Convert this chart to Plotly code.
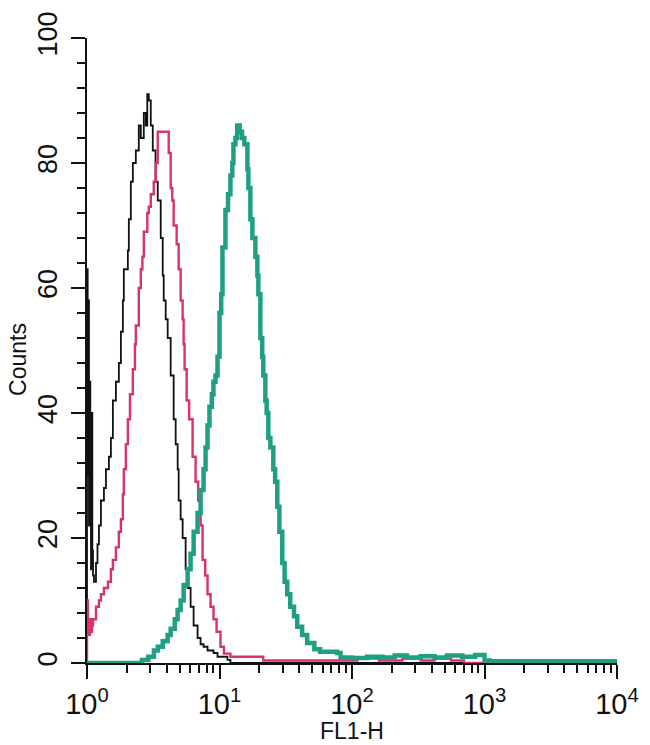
import plotly.graph_objects as go

# ---- data (FL1-H channel value, counts) ----
black_x = [1.0, 1.0, 1.012, 1.024, 1.035, 1.047, 1.059, 1.072, 1.084, 1.097, 1.11, 1.129, 1.169, 1.20,
           1.231, 1.274, 1.342, 1.39, 1.464, 1.515, 1.568, 1.652, 1.74, 1.802, 1.865, 1.897, 2.034,
           2.069, 2.142, 2.218, 2.336, 2.46, 2.547, 2.683, 2.778, 2.85, 2.926, 3.029, 3.136, 3.29,
           3.42, 3.601, 3.728, 3.793, 3.926, 4.064, 4.281, 4.51, 4.669, 4.833, 4.918, 5.091, 5.27,
           5.55, 5.745, 6.053, 6.376, 6.832, 7.197, 7.582, 8.124, 9.015, 9.66, 11.48, 12.09, 10000]
black_y = [0, 63, 30, 58, 22, 45, 38, 15, 40, 18, 14, 13, 16, 19,
           22, 26, 28, 31, 33, 36, 42, 45, 48, 53, 58, 63, 66,
           71, 77, 80, 82, 86, 84, 88, 86, 91, 90, 86, 82, 77,
           74, 68, 62, 58, 55, 52, 46, 39, 35, 31, 26, 23, 20,
           15, 12, 9, 6, 4, 3, 2.6, 2, 1.6, 1, 0.5, 0, 0]

red_x = [1.0, 1.0, 1.017, 1.035, 1.053, 1.072, 1.09, 1.11, 1.169, 1.231, 1.274, 1.342, 1.44, 1.515,
         1.568, 1.652, 1.74, 1.802, 1.865, 1.897, 1.964, 2.034, 2.11, 2.218, 2.30, 2.336, 2.46,
         2.547, 2.62, 2.683, 2.85, 2.926, 3.03, 3.19, 3.303, 3.419, 3.95, 4.136, 4.281, 4.40,
         4.51, 4.75, 4.918, 5.091, 5.27, 5.362, 5.45, 5.65, 5.9, 6.266, 6.6, 6.9, 7.2, 7.451,
         7.8, 8.124, 8.558, 9.015, 9.5, 10.17, 10.8, 12.09, 20.34, 21.4, 110, 160, 240, 330,
         420, 560, 700, 10000]
red_y = [0, 10, 6, 4.5, 7, 5, 6, 7, 9, 10, 11, 12, 13, 15,
         16.5, 18.5, 21, 23, 27, 31, 35, 39, 43, 47, 51, 54, 60,
         63, 65, 69, 72, 73, 75, 77, 80, 85, 85, 81.6, 76, 74,
         70, 67, 63, 58, 55, 51, 47, 42, 39, 33, 29, 26, 22, 16.5,
         14, 11, 9, 7, 5, 2.6, 1.5, 1, 1, 0.4, 0.7, 0.4, 0.7, 0.4,
         0.7, 0.4, 0, 0]

teal_x = [1.0, 2.6, 2.9, 3.2, 3.42, 3.73, 4.06, 4.28, 4.6, 4.83, 5.09, 5.36, 5.75, 6.05, 6.38,
          6.83, 7.2, 7.58, 7.85, 8.12, 8.4, 8.75, 9.0, 9.33, 9.66, 10.0, 10.3, 10.53, 11.09,
          11.6, 12.09, 12.5, 12.74, 13.19, 13.6, 14.2, 14.8, 15.4, 16.24, 16.52, 17.1, 17.71,
          18.65, 19.31, 19.65, 20.34, 21.0, 21.42, 22.18, 22.7, 23.36, 24.2, 25.47, 26.3, 27.3,
          28.3, 29.77, 31.0, 32.45, 34.2, 36.5, 38.6, 42.0, 45.88, 52.0, 57.45, 77.13, 82.0,
          100, 130, 170, 210, 260, 330, 420, 520, 680, 850, 1000, 1100, 10000]
teal_y = [0, 0.5, 1, 2, 2.6, 3.5, 4.5, 5.5, 7, 8.5, 10, 12.5, 15, 17.5, 21,
          24, 27.7, 31, 34.5, 38, 41, 43, 45, 46, 49, 56, 59, 66.5, 72.5,
          75, 78, 80, 83, 84, 86, 85, 84, 83, 79, 76, 71, 68,
          65, 62, 59, 52, 49, 46, 42, 40, 36, 34.5, 31, 29, 25,
          21, 16, 13, 11, 9, 7.5, 5.8, 4.5, 3.2, 2.2, 1.8, 1.6, 0.9,
          0.8, 1.0, 0.9, 1.2, 0.9, 1.1, 0.9, 1.2, 1.0, 1.3, 0.4, 0.3, 0.3]

x_tick_vals = [1, 10, 100, 1000, 10000]
x_tick_text = ["10<sup>0</sup>", "10<sup>1</sup>", "10<sup>2</sup>", "10<sup>3</sup>", "10<sup>4</sup>"]
y_tick_vals = [0, 20, 40, 60, 80, 100]
x_title = "FL1-H"
y_title = "Counts"

FONT = "Liberation Sans, Arial, sans-serif"

fig = go.Figure()
fig.add_trace(go.Scatter(x=black_x, y=black_y, mode="lines", line=dict(color="#111111", width=1.8, shape="hv"),
                         name="isotype", showlegend=False))
fig.add_trace(go.Scatter(x=red_x, y=red_y, mode="lines", line=dict(color="#d8336b", width=2.4, shape="hv"),
                         name="control", showlegend=False))
fig.add_trace(go.Scatter(x=teal_x, y=teal_y, mode="lines", line=dict(color="#1fa083", width=4.5, shape="hv"),
                         name="stained", showlegend=False))

minor_x = [m * 10 ** d for d in range(4) for m in range(2, 10)]

fig.update_layout(
    width=650, height=745,
    margin=dict(l=87, r=33, t=38, b=82, autoexpand=False),
    paper_bgcolor="white", plot_bgcolor="white",
    font=dict(family=FONT, color="#111111"),
    xaxis=dict(
        type="log", range=[0, 4], automargin=False,
        showline=True, linecolor="#111111", linewidth=2,
        showgrid=False, zeroline=False,
        ticks="outside", ticklen=14, tickwidth=2, tickcolor="#111111",
        tickvals=x_tick_vals, ticktext=x_tick_text,
        tickfont=dict(size=29, family=FONT),
        minor=dict(ticks="outside", ticklen=8, tickwidth=2, tickcolor="#111111",
                   tickvals=minor_x, showgrid=False),
    ),
    yaxis=dict(
        range=[0, 100], automargin=False,
        showline=True, linecolor="#111111", linewidth=2,
        showgrid=False, zeroline=False,
        ticks="outside", ticklen=14, tickwidth=2, tickcolor="#111111",
        tickvals=y_tick_vals, tickangle=-90, ticklabelstandoff=3,
        tickfont=dict(size=27, family=FONT),
        minor=dict(ticks="outside", ticklen=8, tickwidth=2, tickcolor="#111111",
                   dtick=4, showgrid=False),
    ),
    annotations=[
        dict(text=x_title, xref="paper", yref="paper", x=0.5, y=-0.109,
             xanchor="center", yanchor="middle", showarrow=False,
             font=dict(size=23, family=FONT, color="#111111")),
        dict(text=y_title, xref="paper", yref="paper", x=-0.13, y=0.485,
             xanchor="center", yanchor="middle", showarrow=False, textangle=-90,
             font=dict(size=23, family=FONT, color="#111111")),
    ],
)

fig.write_html("out.html", config={"displayModeBar": False},
               post_script="document.body.style.margin='0';document.body.style.overflow='hidden';")
